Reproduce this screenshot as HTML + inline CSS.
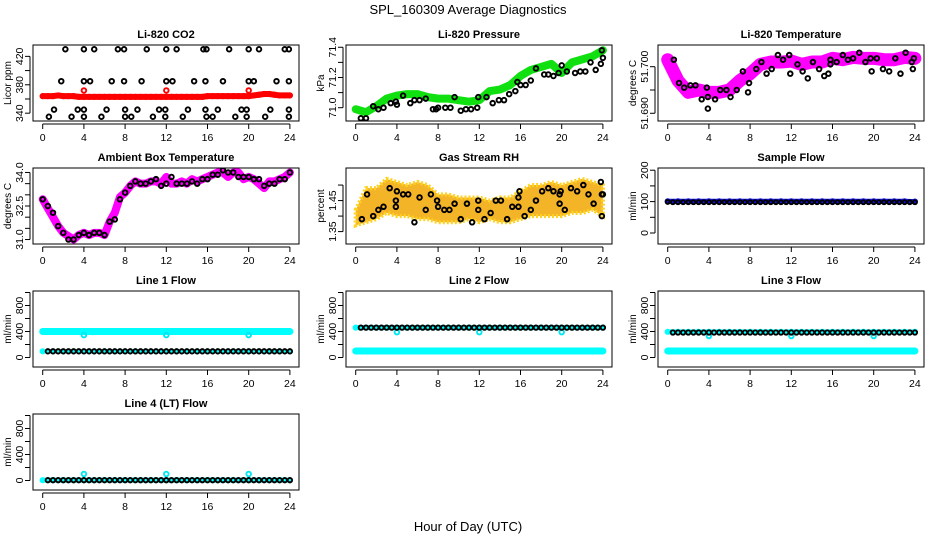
<!DOCTYPE html>
<html><head><meta charset="utf-8">
<style>
html,body{margin:0;padding:0;background:#fff;}
svg{display:block;font-family:"Liberation Sans",Arial,sans-serif;}
</style></head>
<body>
<svg id="chart" width="936" height="540" viewBox="0 0 936 540" xmlns="http://www.w3.org/2000/svg">
<rect x="0" y="0" width="936" height="540" fill="#fff"/>
<text x="468" y="14" font-size="13" text-anchor="middle">SPL_160309  Average Diagnostics</text>
<text x="468" y="531" font-size="13" text-anchor="middle">Hour of Day (UTC)</text>
</svg>
<script>
// ---------- DATA ----------
const xTicks = [0,4,8,12,16,20,24];
const halfHours = [0,0.5,1,1.5,2,2.5,3,3.5,4,4.5,5,5.5,6,6.5,7,7.5,8,8.5,9,9.5,10,10.5,11,11.5,12,12.5,13,13.5,14,14.5,15,15.5,16,16.5,17,17.5,18,18.5,19,19.5,20,20.5,21,21.5,22,22.5,23,23.5,24];
const hours = [0,1,2,3,4,5,6,7,8,9,10,11,12,13,14,15,16,17,18,19,20,21,22,23,24];

// CO2
const co2Red = [364,364,364,365,364,364,364,363,363,363,363,363,363,363,363,363,363,363,363,363,363,363,363,363,363,363,363,363,363,363,363,363,364,364,364,364,364,364,364,364,364,365,366,367,367,366,365,365,365];
const co2RedOutHours = [4,12,20];
const co2RedOutVals = [372,372,372];
const co2BlackHours = [2.2,4,5,7.3,7.9,10.1,12,13,15.6,15.9,18.1,20,21,23.5,23.9, 1.8,4,4.6,6.7,7.9,9.6,12,12.6,14.7,15.8,17.5,20,20.5,22.7,23.9, 1.1,3.4,4,6.2,8,9.2,11.3,11.9,14.1,15.8,17,19.3,19.8,22.1,23.9, 0.6,2.8,4,5.7,8,8.6,10.7,11.9,13.6,15.9,16.5,18.7,19.8,21.6,23.9];
const co2BlackVals = [430,430,430,430,430,430,430,430,430,430,430,430,430,430,430, 385,385,385,385,385,385,385,385,385,385,385,385,385,385,385, 345,345,345,345,345,345,345,345,345,345,345,345,345,345,345, 335,335,335,335,335,335,335,335,335,335,335,335,335,335,335];

// Pressure
const presGreen = [70.99,70.97,71.01,71.06,71.08,71.09,71.09,71.07,71.06,71.06,71.05,71.04,71.05,71.11,71.12,71.15,71.21,71.25,71.27,71.29,71.23,71.30,71.32,71.34,71.38];
const presBlackHours = [0.5,1,1.7,2.2,2.7,3.4,3.9,4,4.6,5.3,5.7,6.2,6.8,7.5,7.8,8,8.7,9.2,9.6,10.2,10.7,11.2,11.8,11.9,12.7,13.3,13.9,14.4,14.9,15.5,15.7,16,16.5,17,17.5,18.3,18.7,19.2,19.7,20,20.5,21.3,21.8,22.3,22.8,23.3,23.8,23.9,24];
const presBlackVals = [70.93,70.93,71.01,70.99,71.00,71.03,71.04,71.02,71.08,71.03,71.05,71.05,71.06,70.99,70.99,71.00,71.00,71.00,71.07,70.98,70.99,70.99,71.00,71.07,71.07,71.03,71.05,71.05,71.09,71.11,71.17,71.15,71.15,71.18,71.26,71.22,71.22,71.21,71.23,71.28,71.24,71.23,71.24,71.24,71.30,71.25,71.29,71.38,71.33];

// Li-820 temperature
const ltMag = [51.7015,51.6970,51.6945,51.6950,51.6945,51.6945,51.6950,51.6970,51.6985,51.7005,51.7010,51.7010,51.7012,51.7005,51.7010,51.7010,51.7018,51.7015,51.7020,51.7018,51.7018,51.7015,51.7015,51.7020,51.7018];
const ltBlackHours = [0.6,1.1,1.6,2.2,2.7,3.3,3.8,3.9,3.9,4.6,5.1,5.7,6.1,6.7,7.3,7.8,7.9,8.6,9.1,9.6,10.1,10.7,11.2,11.8,11.9,12.6,13.1,13.6,14.1,14.7,15.2,15.6,15.8,15.8,16.4,17.0,17.5,18.0,18.6,19.2,19.7,19.8,20.3,20.9,21.5,22.1,22.6,23.1,23.7,23.8,23.9];
const ltBlackVals = [51.7015,51.6965,51.6955,51.6960,51.6960,51.6930,51.6955,51.6935,51.6910,51.6930,51.6950,51.6950,51.6935,51.6950,51.6990,51.6945,51.6965,51.6995,51.7010,51.6985,51.6995,51.7025,51.7015,51.7025,51.6985,51.7005,51.6990,51.6975,51.7010,51.6995,51.6980,51.6985,51.7015,51.7005,51.7010,51.7025,51.7015,51.7018,51.7030,51.7010,51.7018,51.6990,51.7018,51.6995,51.6990,51.7018,51.6985,51.7030,51.7010,51.6995,51.7018];

// Ambient box temperature
const ambMag = [32.8,32.4,32.0,31.6,31.3,31.15,31.0,31.2,31.3,31.2,31.3,31.3,31.2,31.8,32.2,32.9,33.1,33.4,33.6,33.5,33.5,33.6,33.6,33.5,33.8,33.5,33.5,33.6,33.5,33.7,33.6,33.7,33.8,33.9,34.0,34.0,33.8,34.0,34.0,33.7,33.8,33.7,33.5,33.3,33.6,33.6,33.7,33.8,34.0];
const ambBlack = [32.8,32.5,32.2,31.6,31.3,31.0,31.0,31.2,31.3,31.2,31.3,31.3,31.2,31.8,31.9,32.8,33.1,33.4,33.6,33.5,33.5,33.6,33.7,33.4,33.5,33.8,33.5,33.5,33.5,33.6,33.5,33.7,33.7,33.9,33.9,34.1,34.0,34.0,33.8,33.8,33.8,33.7,33.7,33.4,33.5,33.5,33.7,33.7,34.0];

// Gas stream RH
const rhUpper = [1.42,1.49,1.49,1.52,1.51,1.50,1.51,1.50,1.47,1.47,1.46,1.46,1.46,1.45,1.46,1.46,1.48,1.50,1.50,1.51,1.50,1.51,1.52,1.51,1.50];
const rhLower = [1.37,1.38,1.39,1.41,1.40,1.40,1.39,1.39,1.38,1.38,1.38,1.39,1.38,1.39,1.38,1.38,1.39,1.40,1.40,1.40,1.40,1.41,1.41,1.42,1.40];
const rhBlackHours = [0.6,1.1,1.7,2.2,2.7,3.3,3.9,3.9,4.0,4.6,5.1,5.7,6.2,6.8,7.3,7.9,8.0,8.6,9.1,9.6,10.2,10.8,11.3,11.9,11.9,12.5,13.1,13.6,14.1,14.7,15.2,15.8,15.8,15.9,16.4,17.0,17.5,18.1,18.7,19.2,19.8,19.8,19.9,20.3,20.9,21.5,22.1,22.6,23.1,23.8,23.9,23.9,24.0];
const rhBlackVals = [1.39,1.47,1.40,1.42,1.43,1.49,1.43,1.45,1.48,1.47,1.47,1.38,1.46,1.42,1.47,1.45,1.43,1.42,1.42,1.44,1.39,1.44,1.38,1.45,1.42,1.39,1.41,1.45,1.45,1.39,1.43,1.43,1.46,1.48,1.40,1.42,1.45,1.48,1.49,1.48,1.44,1.47,1.48,1.42,1.49,1.48,1.50,1.47,1.44,1.51,1.40,1.47,1.47];

// Sample flow
const sfBlue = [101,101,101,101,101,101,101,101,101,101,101,101,101,101,101,101,101,101,101,101,101,101,101,101,100];
const sfBlack = [99,98,98,98,98,98,98,98,98,98,98,98,98,98,98,98,98,98,98,98,98,98,98,98,98,98,98,98,98,98,98,98,98,98,98,98,98,98,98,98,98,98,98,98,98,98,98,98,98];

// Line flows
const l1Cyan = [400,400,400,400,400,400,400,400,400,400,400,400,400,400,400,400,400,400,400,400,400,400,400,400,400];
const l1CyanLow = [95,95,95,95,95,95,95,95,95,95,95,95,95,95,95,95,95,95,95,95,95,95,95,95,95];
const l1Black = [95,95,95,95,95,95,95,95,95,95,95,95,95,95,95,95,95,95,95,95,95,95,95,95,95,95,95,95,95,95,95,95,95,95,95,95,95,95,95,95,95,95,95,95,95,95,95,95,95];
const l1OutVals = [345,345,345];
const l2Cyan = [100,100,100,100,100,100,100,100,100,100,100,100,100,100,100,100,100,100,100,100,100,100,100,100,100];
const l2CyanHigh = [460,460,460,460,460,460,460,460,460,460,460,460,460,460,460,460,460,460,460,460,460,460,460,460,460];
const l2Black = [460,460,460,460,460,460,460,460,460,460,460,460,460,460,460,460,460,460,460,460,460,460,460,460,460,460,460,460,460,460,460,460,460,460,460,460,460,460,460,460,460,460,460,460,460,460,460,460,460];
const l2OutVals = [390,390,390];
const l3Cyan = [100,100,100,100,100,100,100,100,100,100,100,100,100,100,100,100,100,100,100,100,100,100,100,100,100];
const l3CyanHigh = [395,395,395,395,395,395,395,395,395,395,395,395,395,395,395,395,395,395,395,395,395,395,395,395,395];
const l3Black = [385,385,385,385,385,385,385,385,385,385,385,385,385,385,385,385,385,385,385,385,385,385,385,385,385,385,385,385,385,385,385,385,385,385,385,385,385,385,385,385,385,385,385,385,385,385,385,385,385];
const l3OutVals = [330,330,330];
const l4Cyan = [5,5,5,5,5,5,5,5,5,5,5,5,5,5,5,5,5,5,5,5,5,5,5,5,5];
const l4Black = [5,5,5,5,5,5,5,5,5,5,5,5,5,5,5,5,5,5,5,5,5,5,5,5,5,5,5,5,5,5,5,5,5,5,5,5,5,5,5,5,5,5,5,5,5,5,5,5,5];
const l4OutVals = [100,100,100];
const outHours = [4,12,20];

// ---------- DRAWING ----------
const NS = "http://www.w3.org/2000/svg";
const svg = document.getElementById('chart');
const colLeft = [33,346,658], rowTop = [45,168,291,414], W = 266, H = 76;
function mk(tag, attrs, parent){ const e=document.createElementNS(NS,tag); for(const k in attrs) e.setAttribute(k,attrs[k]); (parent||svg).appendChild(e); return e; }

function panel(name, col, row, title, ylab, dom, ticks, labels){
  const L=colLeft[col], T=rowTop[row];
  const g = mk('g',{});
  
  
  const xs = h => L + 9.7 + h*10.3;
  const ys = v => T + H - (v-dom[0])/(dom[1]-dom[0])*H;
  const t = mk('text',{x:L+W/2,y:T-7,'font-size':11,'font-weight':'bold','text-anchor':'middle'},g);
  t.textContent = title;
  
  
  const yl = mk('text',{x:0,y:0,'font-size':10,'text-anchor':'middle',transform:`translate(${L-22},${T+H/2}) rotate(-90)`},g);
  yl.textContent = ylab;
  
  
  const xa = mk('g',{},g);
  
  
  mk('line',{x1:xs(xTicks[0]),x2:xs(xTicks[xTicks.length-1]),y1:T+H+3,y2:T+H+3,stroke:'#000','stroke-width':1},xa);
  xTicks.forEach(v=>{
    mk('line',{x1:xs(v),x2:xs(v),y1:T+H+3,y2:T+H+8,stroke:'#000','stroke-width':1},xa);
    const tl = mk('text',{x:xs(v),y:T+H+20,'font-size':10.5,'text-anchor':'middle'},xa);
    tl.textContent = v;
  });
  const ya = mk('g',{},g);
  
  
  mk('line',{x1:L-3,x2:L-3,y1:ys(ticks[0]),y2:ys(ticks[ticks.length-1]),stroke:'#000','stroke-width':1},ya);
  ticks.forEach(v=>{
    mk('line',{x1:L-3,x2:L-8,y1:ys(v),y2:ys(v),stroke:'#000','stroke-width':1},ya);
  });
  labels.forEach(v=>{
    const tl = mk('text',{x:0,y:0,'font-size':10.5,'text-anchor':'middle',transform:`translate(${L-10},${ys(v)}) rotate(-90)`},ya);
    tl.textContent = v;
  });
  const clipId = 'clip-'+name;
  const cp = mk('clipPath',{id:clipId},g);
  mk('rect',{x:L,y:T,width:W,height:H},cp);
  const plot = mk('g',{'clip-path':`url(#${clipId})`},g);
  mk('rect',{x:L,y:T,width:W,height:H,fill:'none',stroke:'#000','stroke-width':1},g);
  return {xs,ys,plot};
}
function band(p, name, xsArr, vals, color, width){
  const pts = xsArr.map((h,i)=>p.xs(h)+','+p.ys(vals[i])).join(' ');
  const pl = mk('polyline',{points:pts,fill:'none',stroke:color,'stroke-width':width,'stroke-linejoin':'round','stroke-linecap':'round'},p.plot);
  
  
  xsArr.forEach((h,i)=>{ mk('circle',{cx:p.xs(h),cy:p.ys(vals[i]),r:2.3,fill:'none',stroke:color,'stroke-width':1.6},p.plot); });
}
function pts(p, name, xsArr, vals, color, r){
  const g = mk('g',{},p.plot);
  
  
  xsArr.forEach((h,i)=>{
    const c = mk('circle',{cx:p.xs(h),cy:p.ys(vals[i]),r:r||2.3,fill:'none',stroke:color,'stroke-width':1.9},g);
    
    
  });
}

let p = panel('co2',0,0,'Li-820 CO2','Licor ppm',[329,436],[340,360,380,400,420],[340,380,420]);
band(p,'co2-red-series',halfHours,co2Red,'#ff0000',6);
pts(p,'co2-red-outliers',co2RedOutHours,co2RedOutVals,'#ff0000');
pts(p,'co2-black-series',co2BlackHours,co2BlackVals,'#000');

p = panel('pressure',1,0,'Li-820 Pressure','kPa',[70.912,71.415],[71.0,71.1,71.2,71.3,71.4],['71.0','71.2','71.4']);
band(p,'pressure-green-series',hours,presGreen,'#10e010',8);
pts(p,'pressure-black-series',presBlackHours,presBlackVals,'#000');

p = panel('li820-temp',2,0,'Li-820 Temperature','degrees C',[51.68834,51.70466],[51.690,51.695,51.700],['51.690','51.700']);
band(p,'li820-temp-magenta-series',hours,ltMag,'#ff00ff',13);
pts(p,'li820-temp-black-series',ltBlackHours,ltBlackVals,'#000');

p = panel('ambient',0,1,'Ambient Box Temperature','degrees C',[30.8,34.2],[31.0,31.5,32.0,32.5,33.0,33.5,34.0],['31.0','32.5','34.0']);
band(p,'ambient-magenta-series',halfHours,ambMag,'#ff00ff',8);
pts(p,'ambient-black-series',halfHours,ambBlack,'#000');

p = panel('rh',1,1,'Gas Stream RH','percent',[1.31,1.555],[1.35,1.40,1.45,1.50],['1.35','1.45']);
{
  const poly = hours.map((h,i)=>p.xs(h)+','+p.ys(rhUpper[i])).concat(hours.slice().reverse().map((h,j)=>p.xs(h)+','+p.ys(rhLower[hours.length-1-j]))).join(' ');
  const pg = mk('polygon',{points:poly,fill:'#f4b428',stroke:'#ffd21e','stroke-width':4,'stroke-dasharray':'2 2'},p.plot);
  
  
}
pts(p,'rh-black-series',rhBlackHours,rhBlackVals,'#000');

p = panel('sample-flow',2,1,'Sample Flow','ml/min',[-35,207],[0,50,100,150,200],[0,100,200]);
band(p,'sample-flow-blue-series',hours,sfBlue,'#1010e0',5);
pts(p,'sample-flow-black-series',halfHours,sfBlack,'#000',2);

const fDom=[-146,1023], fTicks=[0,200,400,600,800,1000], fLabels=[0,400,800];
p = panel('line1-flow',0,2,'Line 1 Flow','ml/min',fDom,fTicks,fLabels);
band(p,'line1-cyan-high',hours,l1Cyan,'#00ffff',7);
band(p,'line1-cyan-low',hours,l1CyanLow,'#00ffff',4);
pts(p,'line1-cyan-outliers',outHours,l1OutVals,'#00e8f0');
pts(p,'line1-black-series',halfHours.slice(1),l1Black,'#000',2.2);

p = panel('line2-flow',1,2,'Line 2 Flow','ml/min',fDom,fTicks,fLabels);
band(p,'line2-cyan-low',hours,l2Cyan,'#00ffff',7);
band(p,'line2-cyan-high',hours,l2CyanHigh,'#00ffff',5);
pts(p,'line2-cyan-outliers',outHours,l2OutVals,'#00e8f0');
pts(p,'line2-black-series',halfHours.slice(1),l2Black,'#000',2.2);

p = panel('line3-flow',2,2,'Line 3 Flow','ml/min',fDom,fTicks,fLabels);
band(p,'line3-cyan-low',hours,l3Cyan,'#00ffff',7);
band(p,'line3-cyan-high',hours,l3CyanHigh,'#00ffff',5);
pts(p,'line3-cyan-outliers',outHours,l3OutVals,'#00e8f0');
pts(p,'line3-black-series',halfHours.slice(1),l3Black,'#000',2.2);

p = panel('line4-flow',0,3,'Line 4 (LT) Flow','ml/min',fDom,fTicks,fLabels);
band(p,'line4-cyan-series',hours,l4Cyan,'#00ffff',5);
pts(p,'line4-cyan-outliers',outHours,l4OutVals,'#00e8f0');
pts(p,'line4-black-series',halfHours.slice(1),l4Black,'#000',2.2);
</script>
</body></html>
